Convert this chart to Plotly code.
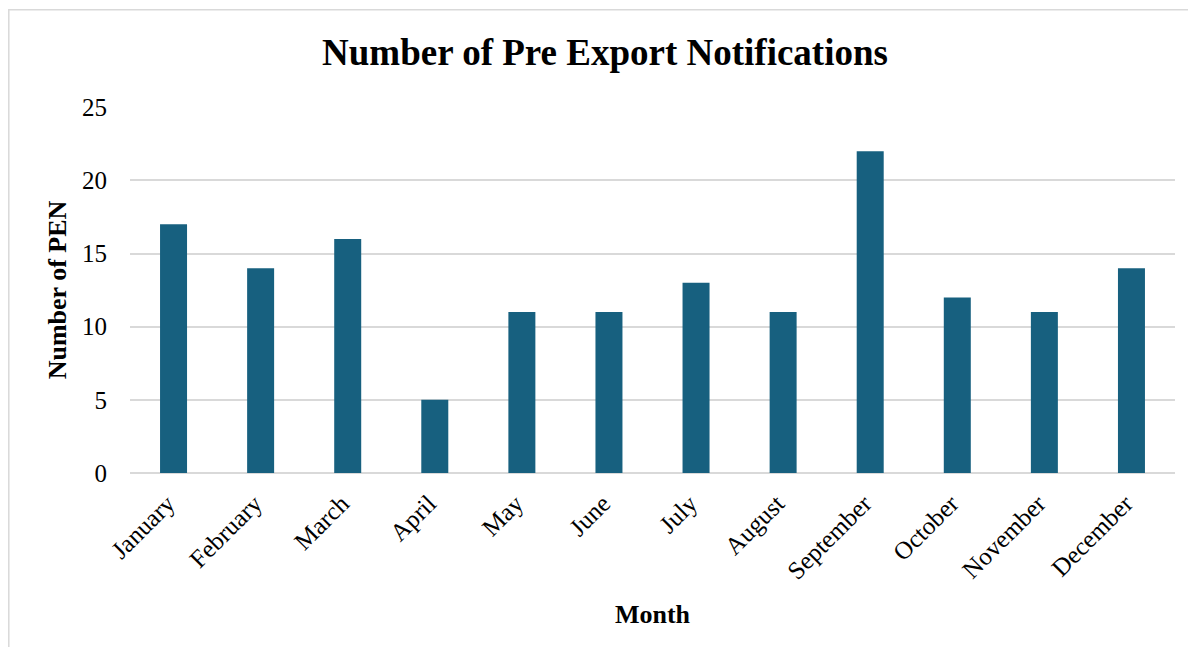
import plotly.graph_objects as go

months = ["January", "February", "March", "April", "May", "June", "July",
          "August", "September", "October", "November", "December"]
pen_counts = [17, 14, 16, 5, 11, 11, 13, 11, 22, 12, 11, 14]
y_ticks = [0, 5, 10, 15, 20, 25]

# page body has an 8px margin; work in figure pixels
W, H = 1180, 639
L, R, T, B = 122, 13, 99, 174
pw, ph = W - L - R, H - T - B

def px_x(x):
    return (x - L) / pw

def px_y(y):
    return (H - B - y) / ph

SERIF = "Liberation Serif, Times New Roman, serif"

fig = go.Figure(go.Bar(
    x=months, y=pen_counts,
    marker=dict(color="#17607F", line=dict(width=0)),
    width=0.31,
))

fig.update_layout(
    width=W, height=H, autosize=False,
    margin=dict(l=L, r=R, t=T, b=B),
    paper_bgcolor="white", plot_bgcolor="white",
    font=dict(family=SERIF, color="black"),
    title=dict(text="<b>Number of Pre Export Notifications</b>",
               font=dict(size=37, family=SERIF, color="black"),
               x=597 / W, xanchor="center", xref="container",
               y=1 - 44 / H, yanchor="middle", yref="container"),
    showlegend=False,
    bargap=0.69,
    shapes=[dict(type="rect", xref="paper", yref="paper",
                 x0=px_x(0.8), x1=px_x(1200), y0=px_y(660), y1=px_y(1.8),
                 line=dict(color="#d9d9d9", width=1.5), fillcolor="rgba(0,0,0,0)",
                 layer="below")],
)

fig.update_xaxes(
    tickangle=-45,
    tickfont=dict(size=25, family=SERIF, color="black"),
    showgrid=False, showline=False, zeroline=False,
    ticks="", ticklabelstandoff=10, ticklabelshift=-6,
    title=dict(text="<b>Month</b>", font=dict(size=26, family=SERIF, color="black"),
               standoff=21),
)
fig.update_yaxes(
    range=[0, 25.02],
    tickvals=y_ticks,
    tickfont=dict(size=25, family=SERIF, color="black"),
    showgrid=True, gridcolor="#d9d9d9", gridwidth=1.5,
    zeroline=True, zerolinecolor="#d9d9d9", zerolinewidth=1.5,
    showline=False, ticks="", ticklabelstandoff=22,
    title=dict(text="<b>Number of PEN</b>", font=dict(size=26, family=SERIF, color="black"),
               standoff=7),
)

fig.write_html("out.html")
